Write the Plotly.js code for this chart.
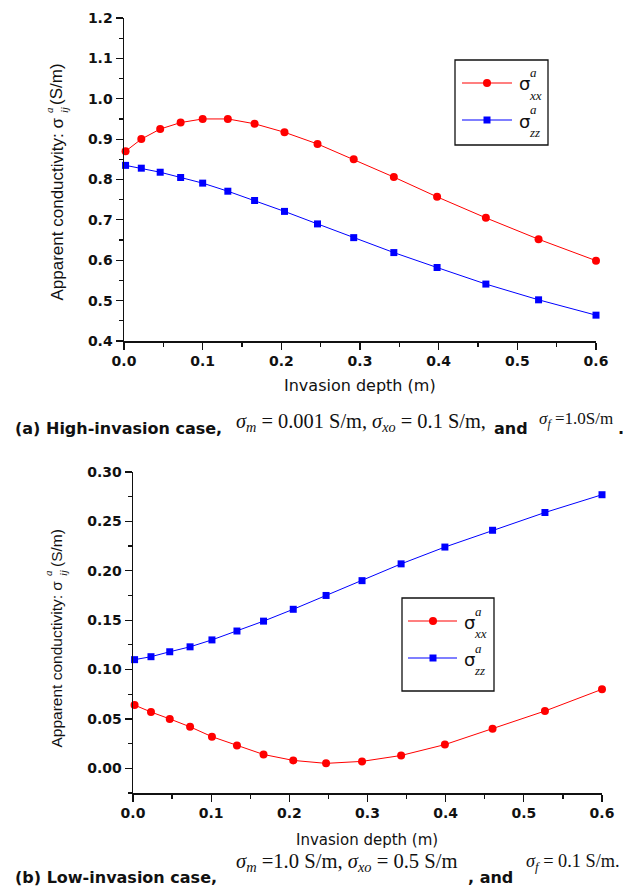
<!DOCTYPE html>
<html>
<head>
<meta charset="utf-8">
<script src="https://cdn.plot.ly/plotly-3.0.1.min.js"></script>
<style>html,body{margin:0;padding:0;background:#fff;}#chart{width:623px;height:887px;}</style>
</head>
<body>
<div id="chart"></div>
<script>
// ---- data ----
const depthHigh = [0.002, 0.022, 0.046, 0.072, 0.100, 0.132, 0.166, 0.204, 0.246, 0.292, 0.343, 0.398, 0.460, 0.527, 0.600];
const sxxHigh   = [0.870, 0.900, 0.925, 0.941, 0.950, 0.950, 0.938, 0.917, 0.888, 0.850, 0.806, 0.757, 0.705, 0.652, 0.599];
const szzHigh   = [0.835, 0.828, 0.818, 0.805, 0.791, 0.771, 0.748, 0.721, 0.690, 0.656, 0.619, 0.582, 0.541, 0.502, 0.464];

const depthLow  = [0.002, 0.023, 0.047, 0.073, 0.101, 0.133, 0.167, 0.205, 0.247, 0.293, 0.343, 0.399, 0.460, 0.527, 0.600];
const sxxLow    = [0.064, 0.057, 0.050, 0.042, 0.032, 0.023, 0.014, 0.008, 0.005, 0.007, 0.013, 0.024, 0.040, 0.058, 0.080];
const szzLow    = [0.110, 0.113, 0.118, 0.123, 0.130, 0.139, 0.149, 0.161, 0.175, 0.190, 0.207, 0.224, 0.241, 0.259, 0.277];

const xTitle = 'Invasion depth (m)';
const yTitleMain = 'Apparent conductivity: σ';
const yTitleUnit = '(S/m)';
const captionA = '(a) High-invasion case,';
const captionB = '(b) Low-invasion case,';

// ---- helpers ----
const W = 623, H = 887;
const px = x => x / W;
const py = y => 1 - y / H;
const RED = '#ff0000', BLUE = '#0000ff';
const SANS = 'DejaVu Sans, Arial, sans-serif';
const ARIAL = 'Liberation Sans, Arial, sans-serif';
const SERIF = 'Liberation Serif, Times New Roman, serif';

function trace(x, y, xa, ya, color, symbol, size) {
  return {x: x, y: y, xaxis: xa, yaxis: ya, type: 'scatter', mode: 'lines+markers',
    line: {color: color, width: 1}, marker: {symbol: symbol, size: size, color: color, line: {width: 0}},
    cliponaxis: false, showlegend: false, hoverinfo: 'skip'};
}

const data = [
  trace(depthHigh, sxxHigh, 'x', 'y', RED, 'circle', 8),
  trace(depthHigh, szzHigh, 'x', 'y', BLUE, 'square', 7),
  trace(depthLow, sxxLow, 'x2', 'y2', RED, 'circle', 8),
  trace(depthLow, szzLow, 'x2', 'y2', BLUE, 'square', 7)
];

function ax(o) {
  return Object.assign({
    showgrid: false, zeroline: false, showline: true, linecolor: '#111', linewidth: 1.5,
    ticks: 'outside', ticklen: 7, tickwidth: 1.2, tickcolor: '#111',
    tickfont: {family: SANS, size: 14, color: '#111', weight: 'bold'},
    fixedrange: true
  }, o);
}

const xDomTop = [px(124), px(596)], yDomTop = [py(341), py(18)];
const xDomBot = [px(133), px(602)], yDomBot = [py(793), py(472)];
const minorOut = d => ({dtick: d, ticks: 'outside', ticklen: 4, tickcolor: '#111'});
const minorIn = d => ({dtick: d, ticks: 'inside', ticklen: 4, tickcolor: '#111'});

const layout = {
  width: W, height: H, margin: {l: 0, r: 0, t: 0, b: 0},
  paper_bgcolor: '#fff', plot_bgcolor: 'rgba(0,0,0,0)', showlegend: false,
  xaxis: ax({domain: xDomTop, anchor: 'y', range: [0, 0.6], tick0: 0, dtick: 0.1, tickformat: '.1f', minor: minorOut(0.05)}),
  yaxis: ax({domain: yDomTop, anchor: 'x', range: [0.4, 1.2], tick0: 0.4, dtick: 0.1, tickformat: '.1f', minor: minorOut(0.05)}),
  xaxis3: ax({overlaying: 'x', anchor: 'y', side: 'top', range: [0, 0.6], tick0: 0, dtick: 0.1, ticks: 'inside',
    showticklabels: false, minor: minorIn(0.05)}),
  yaxis3: ax({overlaying: 'y', anchor: 'x', side: 'right', range: [0.4, 1.2], tick0: 0.4, dtick: 0.1, ticks: 'inside',
    showticklabels: false, minor: minorIn(0.05)}),

  xaxis2: ax({domain: xDomBot, anchor: 'y2', range: [0, 0.6], tick0: 0, dtick: 0.1, tickformat: '.1f', minor: minorOut(0.05)}),
  yaxis2: ax({domain: yDomBot, anchor: 'x2', range: [-0.025, 0.30], tick0: 0, dtick: 0.05, tickformat: '.2f', minor: minorOut(0.025)}),
  xaxis4: ax({overlaying: 'x2', anchor: 'y2', side: 'top', range: [0, 0.6], tick0: 0, dtick: 0.1, ticks: 'inside',
    showticklabels: false, minor: minorIn(0.05)}),
  yaxis4: ax({overlaying: 'y2', anchor: 'x2', side: 'right', range: [-0.025, 0.30], tick0: 0, dtick: 0.05, ticks: 'inside',
    showticklabels: false, minor: minorIn(0.025)}),
  shapes: [],
  annotations: []
};

function ann(text, x, y, o) {
  return Object.assign({text: text, x: px(x), y: py(y), xref: 'paper', yref: 'paper', showarrow: false,
    xanchor: 'left', yanchor: 'middle', font: {family: SANS, size: 16, color: '#111'}}, o || {});
}

// legends (box, sample lines and markers, labels)
function legend(bx0, bx1, by0, by1, lx0, lx1, mx, rows, sx) {
  layout.shapes.push({type: 'rect', xref: 'paper', yref: 'paper', x0: px(bx0), x1: px(bx1), y0: py(by1), y1: py(by0),
    line: {color: '#111', width: 1.3}, fillcolor: 'rgba(0,0,0,0)'});
  rows.forEach(r => {
    layout.shapes.push({type: 'line', xref: 'paper', yref: 'paper', x0: px(lx0), x1: px(lx1), y0: py(r.y), y1: py(r.y),
      line: {color: r.color, width: 1.2}});
    const h = r.sym === 'circle' ? 4 : 3.5;
    layout.shapes.push({type: r.sym === 'circle' ? 'circle' : 'rect', xref: 'paper', yref: 'paper',
      x0: px(mx - h), x1: px(mx + h), y0: py(r.y + h), y1: py(r.y - h), fillcolor: r.color, line: {width: 0}});
    layout.annotations.push(ann('σ', sx, r.y + 1, {font: {family: SANS, size: 18, color: '#111'}}));
    layout.annotations.push(ann('<i>a</i>', sx + 11, r.y - 10, {font: {family: SERIF, size: 13, color: '#111'}}));
    layout.annotations.push(ann('<i>' + r.sub + '</i>', sx + 10, r.y + 12, {font: {family: SERIF, size: 13, color: '#111'}}));
  });
}
legend(455, 548, 60, 145, 462, 512, 487,
  [{y: 83, color: RED, sym: 'circle', sub: 'xx'}, {y: 120, color: BLUE, sym: 'square', sub: 'zz'}], 517);
legend(402, 494, 598, 691, 408, 457, 433,
  [{y: 621, color: RED, sym: 'circle', sub: 'xx'}, {y: 658, color: BLUE, sym: 'square', sub: 'zz'}], 462);

// axis titles
layout.annotations.push(ann(xTitle, 360, 386, {xanchor: 'center', font: {family: SANS, size: 16, color: '#111'}}));
layout.annotations.push(ann(xTitle, 367, 840, {xanchor: 'center', font: {family: SANS, size: 15, color: '#111'}}));

function yTitle(cx, yBottom, yTop, size, scriptY) {
  layout.annotations.push(ann(yTitleMain, cx, yBottom, {xanchor: 'center', yanchor: 'bottom', textangle: -90,
    font: {family: ARIAL, size: size, color: '#111'}}));
  layout.annotations.push(ann(yTitleUnit, cx, yTop, {xanchor: 'center', yanchor: 'top', textangle: -90,
    font: {family: ARIAL, size: size, color: '#111'}}));
  layout.annotations.push(ann('<i>a</i>', cx - 8, scriptY, {xanchor: 'center', textangle: -90,
    font: {family: SERIF, size: 11, color: '#111'}}));
  layout.annotations.push(ann('<i>ij</i>', cx + 7, scriptY, {xanchor: 'center', textangle: -90,
    font: {family: SERIF, size: 11, color: '#111'}}));
}
yTitle(57, 303, 61, 17, 110);
yTitle(56, 750, 527, 15.5, 573);

// captions
const boldCap = {family: SANS, size: 16, color: '#111', weight: 'bold'};
const serif = s => ({family: SERIF, size: s, color: '#111'});
layout.annotations.push(ann(captionA, 13, 428, {font: boldCap}));
layout.annotations.push(ann('<i>σ</i><sub><i>m</i></sub> = 0.001 S/m, <i>σ</i><sub><i>xo</i></sub> = 0.1 S/m,', 234, 422.5, {font: serif(20.4)}));
layout.annotations.push(ann('and', 492, 428, {font: boldCap}));
layout.annotations.push(ann('<i>σ</i><sub><i>f</i></sub> =1.0S/m', 537, 420, {font: serif(17)}));
layout.annotations.push(ann('.', 616, 428, {font: boldCap}));

layout.annotations.push(ann(captionB, 13, 877, {font: boldCap}));
layout.annotations.push(ann('<i>σ</i><sub><i>m</i></sub> =1.0 S/m, <i>σ</i><sub><i>xo</i></sub> = 0.5 S/m', 234, 862.5, {font: serif(20.6)}));
layout.annotations.push(ann(', and', 466, 877, {font: boldCap}));
layout.annotations.push(ann('<i>σ</i><sub><i>f</i></sub> = 0.1 S/m.', 524, 862, {font: serif(18.3)}));

Plotly.newPlot('chart', data, layout, {displayModeBar: false, staticPlot: true});
</script>
</body>
</html>
